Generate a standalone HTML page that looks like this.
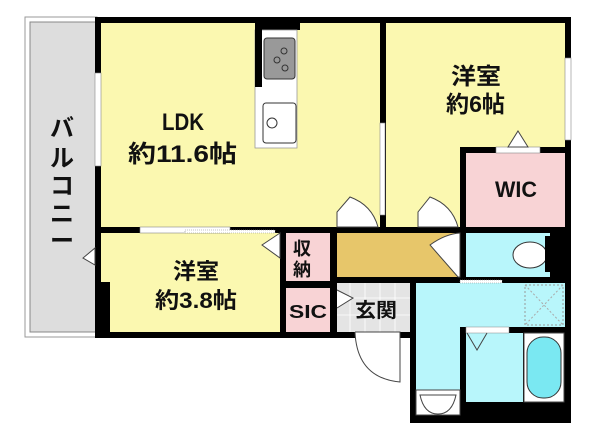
<!DOCTYPE html><html><head><meta charset="utf-8"><style>body{margin:0;background:#fff}svg{display:block}text{font-family:"Liberation Sans","Noto Sans CJK JP",sans-serif;font-weight:bold;fill:#111}</style></head><body>
<svg width="600" height="440" viewBox="0 0 600 440">
<rect x="25" y="17" width="72" height="320" fill="#fff" stroke="#999" stroke-width="1"/>
<rect x="30" y="22" width="67" height="310" fill="#ddd" stroke="#888" stroke-width="1"/>
<rect x="95" y="17" width="476" height="321" fill="#000"/>
<rect x="410" y="277" width="161" height="146" fill="#000"/>
<rect x="101" y="23" width="279" height="204" fill="#fbf8b0"/>
<rect x="255" y="23" width="45" height="7" fill="#000"/>
<rect x="255" y="30" width="42" height="118" fill="#fff" stroke="#999" stroke-width="0.8"/>
<rect x="255" y="23" width="7" height="64" fill="#000"/>
<rect x="264" y="38" width="31" height="41" rx="3" fill="#999" stroke="#333"/>
<circle cx="277" cy="60" r="3" fill="none" stroke="#333"/><circle cx="284" cy="51" r="3" fill="none" stroke="#333"/><circle cx="285" cy="68" r="3" fill="none" stroke="#333"/>
<rect x="263" y="103" width="33" height="40" rx="3" fill="#fff" stroke="#333"/>
<circle cx="272" cy="123" r="5" fill="none" stroke="#333"/>
<rect x="386" y="23" width="179" height="124" fill="#fbf8b0"/>
<rect x="386" y="147" width="74" height="80" fill="#fbf8b0"/>
<rect x="466" y="153" width="99" height="74" fill="#f8d3d5"/>
<rect x="496" y="147" width="44" height="6" fill="#fff" stroke="#888" stroke-width="0.6"/>
<polygon points="518,131 528,147 508,147" fill="#fff" stroke="#444"/>
<rect x="95" y="73" width="6" height="93" fill="#fff" stroke="#888" stroke-width="0.6"/>
<rect x="380" y="123" width="5" height="92" fill="#fff" stroke="#888" stroke-width="0.6"/>
<rect x="565" y="58" width="6" height="82" fill="#fff" stroke="#888" stroke-width="0.6"/>
<path d="M337 227 L337 212 L350 197 Q372 205 378 227 Z" fill="#fff" stroke="#444"/>
<path d="M418 227 L418 212 L430 197 Q452 205 458 227 Z" fill="#fff" stroke="#444"/>
<rect x="101" y="233" width="179" height="49" fill="#fbf8b0"/>
<rect x="110" y="282" width="170" height="50" fill="#fbf8b0"/>
<rect x="140" y="227" width="90" height="6" fill="#fff" stroke="#888" stroke-width="0.6"/>
<rect x="185" y="230" width="90" height="3" fill="#fff" stroke="#888" stroke-width="0.6" stroke-dasharray="1,1"/>
<polygon points="280,233 280,258 262,245" fill="#fff" stroke="#444"/>
<polygon points="95,248 95,265 83,258" fill="#fff" stroke="#444"/>
<rect x="286" y="233" width="44" height="48" fill="#f8d3d5"/>
<rect x="286" y="288" width="44" height="44" fill="#f8d3d5"/>
<rect x="337" y="233" width="123" height="44" fill="#e7c66a"/>
<path d="M460 233 L460 277 L458 277 L430 245 Q445 234 460 233 Z" fill="#fff" stroke="#444"/>
<rect x="337" y="283" width="73" height="49" fill="#e4e4e4"/>
<g stroke="#fff" stroke-width="0.8"><line x1="350" y1="283" x2="350" y2="332"/><line x1="365" y1="283" x2="365" y2="332"/><line x1="380" y1="283" x2="380" y2="332"/><line x1="395" y1="283" x2="395" y2="332"/><line x1="337" y1="298" x2="410" y2="298"/><line x1="337" y1="315" x2="410" y2="315"/></g>
<polyline points="337,290 353,298 337,308" fill="#fff" stroke="#444"/>
<path d="M355 332 L400 332 L400 382 Q357 378 355 332" fill="#fff" stroke="#444"/>
<rect x="466" y="233" width="84" height="44" fill="#b8f6fb"/>
<ellipse cx="530" cy="255" rx="17" ry="13" fill="#fff" stroke="#333"/>
<rect x="545" y="236" width="5" height="36" fill="#000"/>
<rect x="416" y="283" width="149" height="44" fill="#b8f6fb"/>
<rect x="416" y="327" width="44" height="63" fill="#b8f6fb"/>
<rect x="525" y="285" width="38" height="40" fill="none" stroke="#999" stroke-dasharray="2,2"/>
<line x1="525" y1="285" x2="563" y2="325" stroke="#aaa" stroke-dasharray="2,2"/><line x1="563" y1="285" x2="525" y2="325" stroke="#aaa" stroke-dasharray="2,2"/>
<rect x="460" y="280" width="42" height="3" fill="#fff" stroke="#888" stroke-width="0.5" stroke-dasharray="1,1"/>
<rect x="416" y="390" width="44" height="25" fill="#fff" stroke="#444"/>
<path d="M420 395 L456 395 Q452 414 438 414 Q424 414 420 395 Z" fill="#fff" stroke="#444"/>
<rect x="466" y="333" width="57" height="69" fill="#b8f6fb"/>
<rect x="466" y="327" width="43" height="6" fill="#fff" stroke="#888" stroke-width="0.5"/>
<polyline points="467,333 477,350 487,333" fill="none" stroke="#444"/>
<rect x="524" y="333" width="40" height="69" fill="#fff" stroke="#444"/>
<rect x="527" y="337" width="34" height="61" rx="16" fill="#7ae8f2" stroke="#333"/>
<text x="162" y="130" font-size="24" textLength="42" lengthAdjust="spacingAndGlyphs">LDK</text>
<text x="128" y="162" font-size="24" textLength="109" lengthAdjust="spacingAndGlyphs">約11.6帖</text>
<text x="451" y="84" font-size="23" textLength="50" lengthAdjust="spacingAndGlyphs">洋室</text>
<text x="446" y="112" font-size="23" textLength="59" lengthAdjust="spacingAndGlyphs">約6帖</text>
<text x="495" y="197" font-size="22" textLength="42" lengthAdjust="spacingAndGlyphs">WIC</text>
<text x="173" y="279" font-size="22" textLength="46" lengthAdjust="spacingAndGlyphs">洋室</text>
<text x="155" y="308" font-size="22" textLength="82" lengthAdjust="spacingAndGlyphs">約3.8帖</text>
<text x="293" y="255" font-size="18">収</text>
<text x="293" y="276" font-size="18">納</text>
<text x="289" y="318" font-size="18" textLength="38" lengthAdjust="spacingAndGlyphs">SIC</text>
<text x="355" y="317" font-size="20" textLength="42" lengthAdjust="spacingAndGlyphs">玄関</text>
<g font-size="24"><text x="50" y="136">バ</text><text x="50" y="166">ル</text><text x="50" y="194">コ</text><text x="50" y="222">ニ</text><text x="50" y="249">ー</text></g>
</svg></body></html>
